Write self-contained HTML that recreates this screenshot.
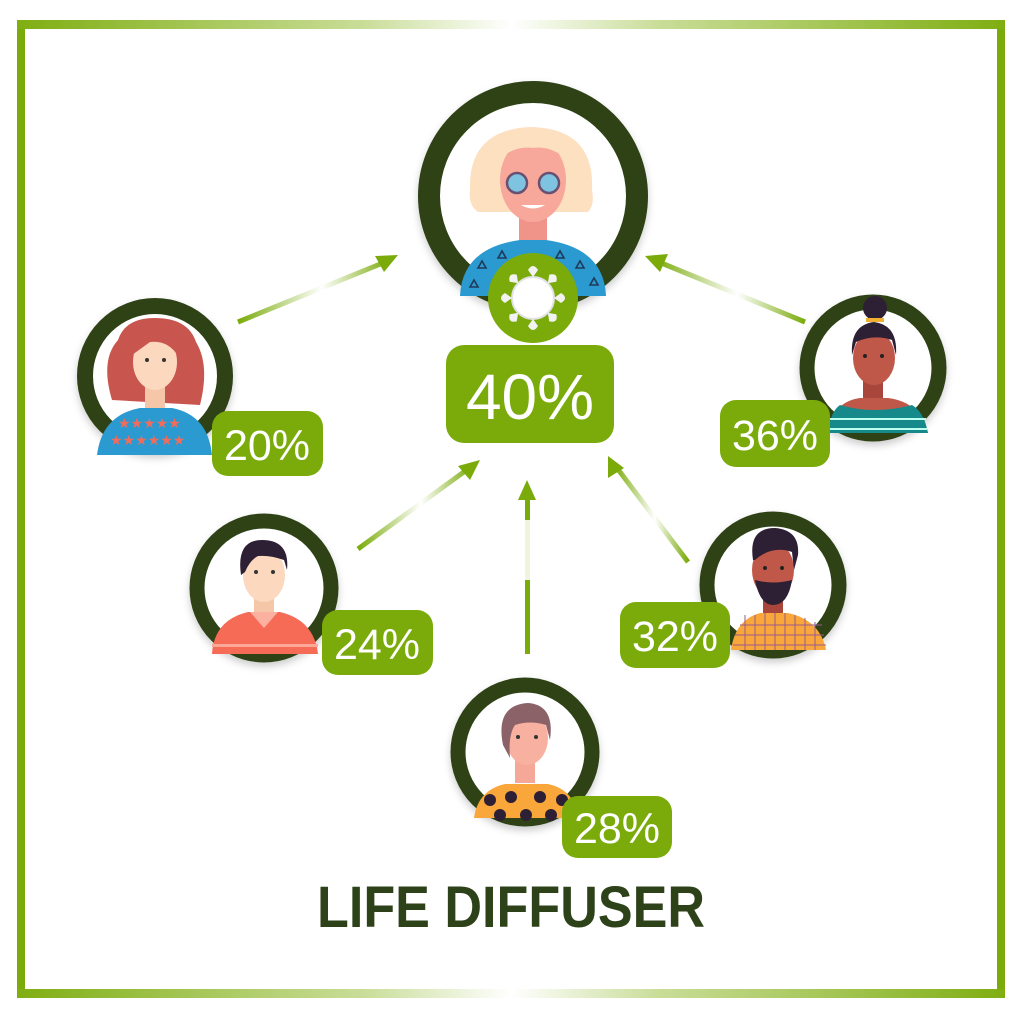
<!DOCTYPE html>
<html><head><meta charset="utf-8"><style>html,body{margin:0;padding:0;background:#fff}svg{display:block}</style></head>
<body>
<svg width="1024" height="1024" viewBox="0 0 1024 1024" xmlns="http://www.w3.org/2000/svg" font-family="Liberation Sans, sans-serif">
<defs>
<linearGradient id="hb" x1="0" x2="1" y1="0" y2="0">
<stop offset="0" stop-color="#7fae12"/><stop offset="0.35" stop-color="#c9dd98"/><stop offset="0.5" stop-color="#ffffff"/><stop offset="0.65" stop-color="#c9dd98"/><stop offset="1" stop-color="#7fae12"/></linearGradient>
<linearGradient id="ag" gradientUnits="objectBoundingBox" x1="0" x2="1"><stop offset="0" stop-color="#7aab0a"/><stop offset="0.55" stop-color="#ffffff"/><stop offset="1" stop-color="#7aab0a"/></linearGradient>
<filter id="sh" x="-20%" y="-20%" width="140%" height="140%"><feDropShadow dx="0" dy="4" stdDeviation="4" flood-opacity="0.2"/></filter>
</defs>
<!-- frame -->
<rect x="21" y="24" width="980" height="970" fill="none" stroke="#7aab0a" stroke-width="8"/>
<rect x="17" y="20" width="988" height="9" fill="url(#hb)"/>
<rect x="17" y="989" width="988" height="9" fill="url(#hb)"/>

<!-- arrows -->
<g stroke-width="5" fill="none">
<line x1="238" y1="322" x2="390" y2="260" stroke="url(#ag)"/>
<line x1="358" y1="549" x2="472" y2="466" stroke="url(#ag)"/>
<line x1="805" y1="322" x2="654" y2="260" stroke="url(#ag)"/>
<line x1="688" y1="562" x2="614" y2="464" stroke="url(#ag)"/>
</g>
<rect x="525" y="488" width="5" height="166" fill="#7aab0a"/>
<rect x="525" y="520" width="5" height="60" fill="#eef5df"/>
<g fill="#7aab0a">
<polygon points="398,255 375,256 384,272"/>
<polygon points="480,460 458,466 470,480"/>
<polygon points="527,480 518,500 536,500"/>
<polygon points="645,256 668,254 660,272"/>
<polygon points="608,456 608,478 624,468"/>
</g>

<!-- TOP avatar -->
<circle cx="533" cy="196" r="104" fill="#fff" stroke="#2d4219" stroke-width="22" filter="url(#sh)"/>
<g>
<path d="M470,190 Q468,130 530,127 Q595,128 592,190 Q595,205 588,212 L478,212 Q468,205 470,190Z" fill="#fde0c0"/>
<rect x="519" y="205" width="28" height="40" fill="#f0948a"/>
<ellipse cx="533" cy="180" rx="33" ry="42" fill="#f7a89a"/>
<path d="M498,160 Q500,132 533,132 Q566,132 568,160 Q550,145 533,148 Q515,145 498,160Z" fill="#fde0c0"/>
<circle cx="517" cy="183" r="10" fill="#7ec3e0" stroke="#6a5070" stroke-width="2.5"/>
<circle cx="549" cy="183" r="10" fill="#7ec3e0" stroke="#6a5070" stroke-width="2.5"/>
<path d="M521,205 Q533,212 545,205Z" fill="#fff"/>
<path d="M460,296 Q462,248 520,240 L546,240 Q604,248 606,296Z" fill="#2a9ad0"/>
<g fill="none" stroke="#1f3a5a" stroke-width="1.6">
<path d="M478,268 l4,-7 l4,7z M498,258 l4,-7 l4,7z M556,258 l4,-7 l4,7z M576,268 l4,-7 l4,7z M590,285 l4,-7 l4,7z M470,287 l4,-7 l4,7z"/>
</g>
</g>
<circle cx="533" cy="298" r="45" fill="#7aab0a"/>
<circle cx="533" cy="298" r="21" fill="#fff" stroke="#e2e2e2" stroke-width="2"/>
<g fill="#f2f2f2">
<g id="pt"><path d="M528,270 Q533,262 538,270 L533,277Z"/></g>
<use href="#pt" transform="rotate(45 533 298)"/><use href="#pt" transform="rotate(90 533 298)"/>
<use href="#pt" transform="rotate(135 533 298)"/><use href="#pt" transform="rotate(180 533 298)"/>
<use href="#pt" transform="rotate(225 533 298)"/><use href="#pt" transform="rotate(270 533 298)"/>
<use href="#pt" transform="rotate(315 533 298)"/>
</g>
<rect x="446" y="345" width="168" height="98" rx="18" fill="#7aab0a"/>
<text x="530" y="419" font-size="64" fill="#fff" text-anchor="middle">40%</text>

<!-- 20% woman -->
<circle cx="155" cy="376" r="70" fill="#fff" stroke="#2d4219" stroke-width="16" filter="url(#sh)"/>
<path d="M112,400 Q100,360 118,340 Q125,318 155,318 Q188,318 196,342 Q210,365 200,405 Z" fill="#c9554f"/>
<rect x="145" y="385" width="20" height="25" fill="#f5c6a8"/>
<ellipse cx="155" cy="362" rx="22" ry="28" fill="#fbd8be"/>
<path d="M132,355 Q135,330 160,332 Q180,335 178,356 Q168,340 150,342Z" fill="#c9554f"/>
<circle cx="147" cy="360" r="2" fill="#333"/><circle cx="164" cy="360" r="2" fill="#333"/>
<path d="M97,455 Q102,415 140,408 L172,408 Q208,415 212,455Z" fill="#2a9ad0"/>
<g fill="#f26b5b" font-size="14"><text x="110" y="445">★★★★★★</text><text x="118" y="428">★★★★★</text></g>
<rect x="212" y="411" width="111" height="65" rx="16" fill="#7aab0a"/>
<text x="267" y="460" font-size="43" fill="#fff" text-anchor="middle">20%</text>

<!-- 24% man -->
<circle cx="264" cy="588" r="67" fill="#fff" stroke="#2d4219" stroke-width="15" filter="url(#sh)"/>
<rect x="254" y="590" width="20" height="25" fill="#f5c6a8"/>
<ellipse cx="264" cy="575" rx="21" ry="27" fill="#fbd8be"/>
<path d="M241,575 Q236,540 262,540 Q290,540 287,570 L284,560 Q270,555 258,556 Q250,560 245,572Z" fill="#2d1f34"/>
<circle cx="256" cy="572" r="2" fill="#333"/><circle cx="273" cy="572" r="2" fill="#333"/>
<path d="M212,654 Q214,620 248,612 L280,612 Q314,620 318,654Z" fill="#f66b55"/>
<path d="M250,612 L264,628 L278,612" fill="#fbb0a0"/>
<rect x="212" y="644" width="106" height="3" fill="#fba898"/>
<rect x="322" y="610" width="111" height="65" rx="16" fill="#7aab0a"/>
<text x="377" y="659" font-size="43" fill="#fff" text-anchor="middle">24%</text>

<!-- 28% woman -->
<circle cx="525" cy="752" r="67" fill="#fff" stroke="#2d4219" stroke-width="15" filter="url(#sh)"/>
<rect x="515" y="755" width="20" height="28" fill="#f5a898"/>
<ellipse cx="527" cy="738" rx="21" ry="27" fill="#f8b0a0"/>
<path d="M503,745 Q495,705 528,703 Q555,705 550,740 L546,725 Q530,720 515,725 Q508,735 510,758Z" fill="#8a6268"/>
<circle cx="518" cy="737" r="2" fill="#333"/><circle cx="536" cy="737" r="2" fill="#333"/>
<path d="M474,818 Q478,790 505,784 L548,784 Q575,790 578,818Z" fill="#f9a63a"/>
<g fill="#2d1f34"><circle cx="490" cy="800" r="6"/><circle cx="511" cy="797" r="6"/><circle cx="540" cy="797" r="6"/><circle cx="562" cy="800" r="6"/><circle cx="500" cy="815" r="6"/><circle cx="526" cy="815" r="6"/><circle cx="551" cy="815" r="6"/></g>
<rect x="562" y="796" width="110" height="62" rx="16" fill="#7aab0a"/>
<text x="617" y="843" font-size="43" fill="#fff" text-anchor="middle">28%</text>

<!-- 32% man -->
<circle cx="773" cy="585" r="66" fill="#fff" stroke="#2d4219" stroke-width="15" filter="url(#sh)"/>
<rect x="763" y="595" width="20" height="22" fill="#a8463c"/>
<ellipse cx="773" cy="570" rx="21" ry="28" fill="#c0584a"/>
<path d="M753,560 Q748,528 775,528 Q800,530 798,555 L794,570 L792,552 Q772,545 755,560Z" fill="#2d1f34"/>
<path d="M755,580 Q760,605 773,605 Q788,605 792,580 Q773,585 755,580Z" fill="#2d1f34"/>
<circle cx="765" cy="568" r="2" fill="#222"/><circle cx="782" cy="568" r="2" fill="#222"/>
<path d="M731,650 Q735,620 760,613 L788,613 Q820,620 826,650Z" fill="#f9a63a"/>
<g stroke="#9a5a8a" stroke-width="1"><path d="M740,625 H822 M735,635 H824 M733,645 H826 M745,615 V650 M755,615 V650 M765,613 V650 M775,613 V650 M785,613 V650 M795,615 V650 M805,618 V650 M815,622 V650"/></g>
<rect x="620" y="602" width="110" height="66" rx="16" fill="#7aab0a"/>
<text x="675" y="651" font-size="43" fill="#fff" text-anchor="middle">32%</text>

<!-- 36% woman -->
<circle cx="873" cy="368" r="66" fill="#fff" stroke="#2d4219" stroke-width="15" filter="url(#sh)"/>
<rect x="863" y="375" width="20" height="28" fill="#a8463c"/>
<ellipse cx="874" cy="358" rx="21" ry="27" fill="#c0584a"/>
<path d="M852,355 Q850,325 874,322 Q898,325 896,355 L892,340 Q874,334 856,342Z" fill="#2d1f34"/>
<circle cx="875" cy="308" r="12" fill="#2d1f34"/><rect x="866" y="318" width="18" height="4" fill="#f0b030"/>
<circle cx="865" cy="356" r="2" fill="#222"/><circle cx="882" cy="356" r="2" fill="#222"/>
<path d="M828,433 Q832,402 860,398 L888,398 Q920,402 928,433Z" fill="#c0584a"/>
<path d="M828,433 Q830,412 840,405 Q874,415 912,405 Q924,412 928,433Z" fill="#168a8a"/>
<rect x="830" y="418" width="96" height="2" fill="#bfe"/><rect x="829" y="428" width="98" height="2" fill="#bfe"/>
<rect x="720" y="400" width="110" height="67" rx="16" fill="#7aab0a"/>
<text x="775" y="450" font-size="43" fill="#fff" text-anchor="middle">36%</text>

<!-- title -->
<text x="317" y="927" font-size="58" font-weight="bold" fill="#2d4219" textLength="388" lengthAdjust="spacingAndGlyphs">LIFE DIFFUSER</text>
</svg>
</body></html>
